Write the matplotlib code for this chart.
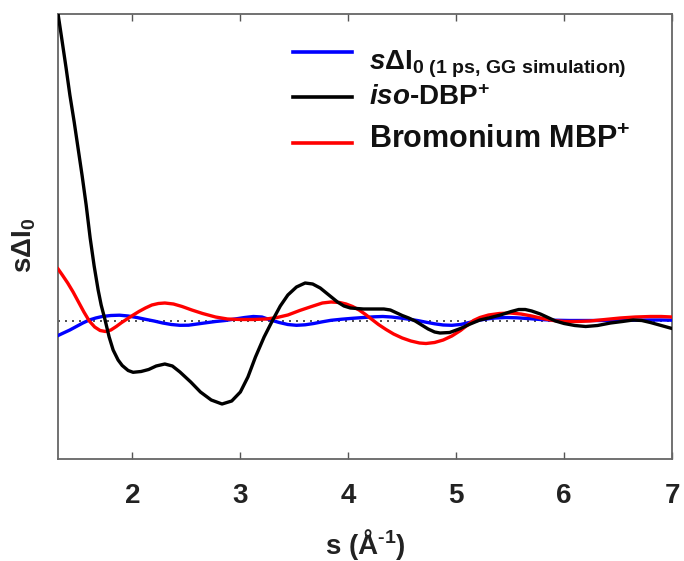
import matplotlib
matplotlib.use("Agg")
import matplotlib.pyplot as plt
from matplotlib.lines import Line2D

plt.rcParams['font.family'] = ['Liberation Sans', 'DejaVu Sans']
plt.rcParams['mathtext.fontset'] = 'custom'
plt.rcParams['mathtext.rm'] = 'Liberation Sans:bold'
plt.rcParams['mathtext.bf'] = 'Liberation Sans:bold'
plt.rcParams['mathtext.it'] = 'Liberation Sans:italic:bold'
plt.rcParams['mathtext.default'] = 'rm'

# ---- data ----
s_black = [1.311, 1.348, 1.385, 1.42, 1.46, 1.497, 1.534, 1.571, 1.608, 1.645, 1.682, 1.71,
           1.747, 1.784, 1.821, 1.867, 1.905, 1.96, 2.006, 2.08, 2.15, 2.22, 2.30, 2.37, 2.44,
           2.54, 2.63, 2.73, 2.83, 2.92, 3.00, 3.07, 3.14, 3.22, 3.30, 3.37, 3.44, 3.52, 3.60,
           3.67, 3.74, 3.82, 3.90, 3.96, 4.02, 4.14, 4.26, 4.33, 4.39, 4.45, 4.50, 4.56, 4.62,
           4.68, 4.74, 4.80, 4.85, 4.94, 5.04, 5.13, 5.22, 5.32, 5.41, 5.51, 5.58, 5.64, 5.70,
           5.78, 5.85, 5.92, 6.00, 6.10, 6.20, 6.31, 6.43, 6.54, 6.64, 6.72, 6.80, 6.90, 7.00]
y_black = [30.67, 28.0, 25.3, 22.6, 19.9, 17.2, 14.5, 11.6, 8.3, 5.5, 3.1, 1.6,
           0.07, -1.6, -2.9, -3.9, -4.45, -4.95, -5.13, -5.05, -4.85, -4.5, -4.3, -4.5, -5.1,
           -6.1, -7.1, -7.9, -8.3, -8.0, -7.1, -5.6, -3.6, -1.6, 0.1, 1.5, 2.6, 3.4, 3.8,
           3.7, 3.3, 2.6, 1.9, 1.5, 1.3, 1.2, 1.2, 1.2, 1.1, 0.8, 0.55, 0.3, 0.0,
           -0.4, -0.8, -1.1, -1.2, -1.15, -0.75, -0.3, 0.1, 0.35, 0.6, 0.95, 1.15, 1.15, 1.0,
           0.7, 0.35, 0.0, -0.25, -0.45, -0.55, -0.45, -0.2, -0.05, 0.1, 0.05, -0.15, -0.45, -0.75]

s_red = [1.311, 1.35, 1.40, 1.45, 1.50, 1.55, 1.60, 1.65, 1.70, 1.75, 1.80, 1.85, 1.90, 1.95,
         2.00, 2.06, 2.12, 2.18, 2.24, 2.30, 2.38, 2.46, 2.55, 2.65, 2.77, 2.88, 3.00, 3.12,
         3.24, 3.34, 3.44, 3.55, 3.66, 3.76, 3.84, 3.92, 3.98, 4.04, 4.10, 4.16, 4.22, 4.28,
         4.35, 4.42, 4.50, 4.58, 4.66, 4.72, 4.80, 4.88, 4.96, 5.04, 5.10, 5.16, 5.22, 5.30,
         5.40, 5.50, 5.60, 5.70, 5.80, 5.90, 6.00, 6.12, 6.24, 6.38, 6.52, 6.66, 6.80, 6.90,
         7.00]
y_red = [5.2, 4.6, 3.8, 2.9, 1.9, 0.9, 0.0, -0.6, -0.95, -1.05, -0.9, -0.55, -0.15, 0.2,
         0.55, 0.95, 1.3, 1.6, 1.75, 1.8, 1.7, 1.45, 1.1, 0.75, 0.4, 0.2, 0.15, 0.15,
         0.2, 0.35, 0.6, 1.05, 1.45, 1.8, 1.9, 1.85, 1.7, 1.45, 1.1, 0.65, 0.15, -0.35,
         -0.85, -1.3, -1.7, -2.0, -2.2, -2.25, -2.15, -1.9, -1.5, -0.95, -0.45, 0.05, 0.35, 0.6,
         0.75, 0.8, 0.7, 0.5, 0.25, 0.05, -0.05, -0.05, 0.0, 0.15, 0.3, 0.4, 0.45, 0.45,
         0.4]

s_blue = [1.311, 1.36, 1.42, 1.48, 1.54, 1.60, 1.66, 1.72, 1.80, 1.88, 1.96, 2.04, 2.12, 2.20,
          2.28, 2.36, 2.44, 2.52, 2.60, 2.68, 2.77, 2.86, 2.95, 3.04, 3.12, 3.20, 3.28, 3.36,
          3.44, 3.52, 3.60, 3.68, 3.76, 3.84, 3.94, 4.04, 4.14, 4.24, 4.32, 4.40, 4.48, 4.56,
          4.64, 4.72, 4.80, 4.88, 4.96, 5.04, 5.12, 5.20, 5.28, 5.36, 5.46, 5.56, 5.66, 5.78,
          5.90, 6.05, 6.20, 6.35, 6.50, 6.65, 6.80, 6.90, 7.00]
y_blue = [-1.45, -1.2, -0.9, -0.55, -0.2, 0.1, 0.3, 0.45, 0.55, 0.58, 0.5, 0.35, 0.17, 0.0,
          -0.2, -0.35, -0.43, -0.42, -0.3, -0.18, -0.05, 0.05, 0.2, 0.35, 0.45, 0.4, 0.1, -0.15,
          -0.35, -0.43, -0.38, -0.25, -0.08, 0.07, 0.18, 0.27, 0.35, 0.42, 0.45, 0.4, 0.3, 0.18,
          0.05, -0.12, -0.28, -0.4, -0.43, -0.35, -0.15, 0.05, 0.2, 0.3, 0.35, 0.32, 0.25, 0.15,
          0.08, 0.05, 0.05, 0.05, 0.06, 0.08, 0.1, 0.1, 0.08]

xticks = [2, 3, 4, 5, 6, 7]
labels = [r"$\mathit{s}\mathbf{\Delta I}_{\mathbf{0\ (1\ ps{,}\ GG\ simulation)}}$",
          r"$\mathit{iso}$-DBP$^{+}$",
          r"Bromonium MBP$^{+}$"]
label_sizes = [20, 20, 22]
colors = ['#0000ff', '#000000', '#ff0000']

W, H = 684, 561
fig = plt.figure(figsize=(6.84, 5.61), dpi=100)
ax = fig.add_axes([58 / W, 1 - 459 / H, (672 - 58) / W, (459 - 14) / H])

ax.axhline(0, color='#333333', lw=1.2, ls=(0, (1.2, 3.0)), zorder=1)
ax.plot(s_blue, y_blue, color=colors[0], lw=2.4, zorder=3, solid_joinstyle='round')
ax.plot(s_red, y_red, color=colors[2], lw=2.4, zorder=4, solid_joinstyle='round')
ax.plot(s_black, y_black, color=colors[1], lw=2.4, zorder=5, solid_joinstyle='round')

ax.set_xlim(1.31, 7.0)
ax.set_ylim(-13.8, 30.7)
ax.set_xticks(xticks)
ax.set_xticklabels([str(t) for t in xticks], fontsize=20, fontweight='bold', color='#222222')
ax.set_yticks([])
ax.tick_params(axis='x', direction='in', length=5, width=1, color='#555555', top=True,
               pad=17)
for sp in ax.spines.values():
    sp.set_color('#666666')
    sp.set_linewidth(1.3)

fig.text(365 / W, 1 - 545 / H, r"s (Å$^{\text{-1}}$)", fontsize=20, fontweight='bold',
         ha='center', va='center', color='#222222')
fig.text(24 / W, 1 - 245 / H, r"s$\mathbf{\Delta I}_{\mathbf{0}}$", fontsize=20,
         fontweight='bold', rotation=90, ha='center', va='center', color='#222222')

# legend (hand-placed, as in the reference)
line_y = [52, 97, 143]
base_y = [69, 105, 148]
for lab, col, ly, by, fs in zip(labels, colors, line_y, base_y, label_sizes):
    fig.add_artist(Line2D([293 / W, 352 / W], [1 - ly / H, 1 - ly / H], color=col, lw=2.6))
    fig.text(369 / W, 1 - by / H, lab, fontsize=fs, fontweight='bold', ha='left',
             va='baseline', color='#111111')

fig.savefig("out.png", dpi=100)
